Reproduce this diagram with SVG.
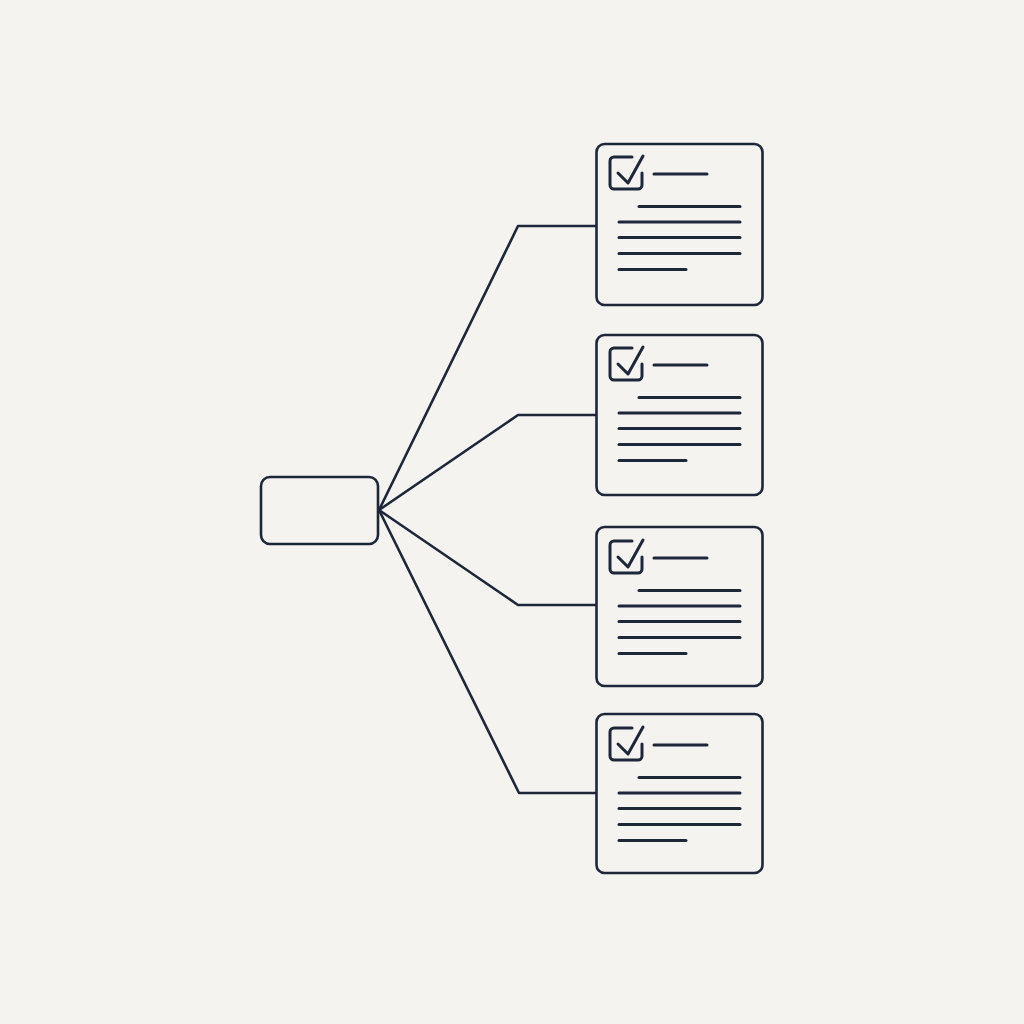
<svg xmlns="http://www.w3.org/2000/svg" width="1024" height="1024" viewBox="0 0 1024 1024">
<style>
.s{fill:none;stroke:#1e2738;stroke-width:3;stroke-linecap:round;stroke-linejoin:round}
.b{fill:none;stroke:#1e2738;stroke-width:2.6}
</style>
<defs>
<g id="content" class="s">
<path d="M36 13 H18 a4 4 0 0 0 -4 4 V41 a4 4 0 0 0 4 4 H42 a4 4 0 0 0 4 -4 V29"/>
<path d="M22 29 L32 39 L47 12"/>
<path d="M58 30 H111"/>
<path d="M43 62.5 H144"/>
<path d="M23 78 H144"/>
<path d="M23 93.5 H144"/>
<path d="M23 109.5 H144"/>
<path d="M23 125.5 H90"/>
</g>
</defs>
<rect width="1024" height="1024" fill="#f4f3f0"/>
<g id="connectors" class="b" stroke-linejoin="round">
<path d="M379 510 L518 226 H596"/>
<path d="M379 510 L518 415 H596"/>
<path d="M379 510 L518 605 H596"/>
<path d="M379 510 L519 793 H596"/>
</g>
<g id="root">
<rect x="261" y="477" width="117" height="67" rx="9" class="b"/>
</g>
<g id="card1">
<rect x="596.5" y="144" width="166" height="161" rx="8" class="b"/>
<use href="#content" transform="translate(596 144)"/>
</g>
<g id="card2">
<rect x="596.5" y="335" width="166" height="160" rx="8" class="b"/>
<use href="#content" transform="translate(596 335)"/>
</g>
<g id="card3">
<rect x="596.5" y="527" width="166" height="159" rx="8" class="b"/>
<use href="#content" transform="translate(596 528)"/>
</g>
<g id="card4">
<rect x="596.5" y="714" width="166" height="159" rx="8" class="b"/>
<use href="#content" transform="translate(596 715)"/>
</g>
</svg>
